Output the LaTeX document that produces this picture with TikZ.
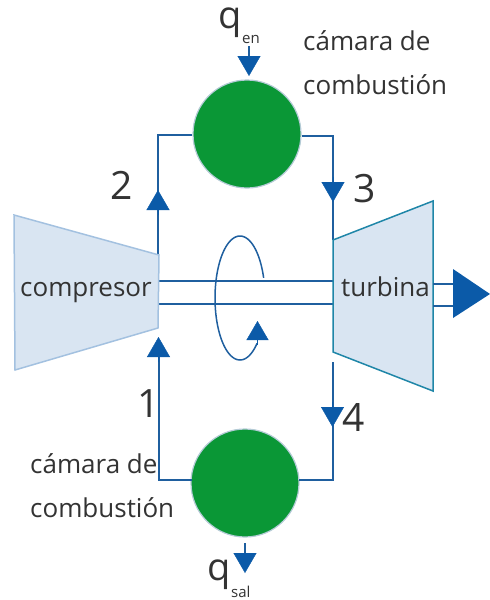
\documentclass[tikz,border=0pt]{standalone}
\usepackage{fontspec}
\setmainfont{Open Sans}
\usetikzlibrary{arrows.meta,calc}
\definecolor{flowblue}{HTML}{0B5AA8}
\definecolor{linkblue}{HTML}{1F5F9F}
\definecolor{chamber}{HTML}{0A9736}
\definecolor{rim}{HTML}{B4CBD6}
\definecolor{bodyfill}{HTML}{D9E5F2}
\definecolor{compedge}{HTML}{A3C1E0}
\definecolor{turbedge}{HTML}{1F86A8}
\definecolor{ink}{HTML}{333333}
\tikzset{
  link/.style={draw=linkblue,line width=1.5pt},
  headarrow/.style={draw=flowblue,line width=0.4pt,-{Triangle[length=20pt,width=23pt,color=flowblue]}},
  smallhead/.style={draw=flowblue,line width=0.4pt,-{Triangle[length=19pt,width=22pt,color=flowblue]}},
  chamberdot/.style={circle,fill=chamber,draw=rim,line width=1.2pt,minimum size=108pt,inner sep=0pt},
  lab/.style={anchor=base west,inner sep=0pt,text=ink,font=\fontsize{26}{26}\selectfont},
  num/.style={anchor=base west,inner sep=0pt,text=ink,font=\fontsize{39}{39}\selectfont},
  qsym/.style={anchor=base west,inner sep=0pt,text=ink,font=\fontsize{38}{38}\selectfont},
  qsub/.style={anchor=base west,inner sep=0pt,text=ink,font=\fontsize{15}{15}\selectfont},
}
\begin{document}
\begin{tikzpicture}[x=1pt,y=-1pt]
\useasboundingbox (0,0) rectangle (490,600);
% named places
\coordinate (compTL) at (14,215);
\coordinate (compTR) at (159,255);
\coordinate (compBR) at (158,328);
\coordinate (compBL) at (15,370);
\coordinate (turbTL) at (333,240);
\coordinate (turbTR) at (433,201);
\coordinate (turbBR) at (433,391);
\coordinate (turbBL) at (333,352);
\node[chamberdot] (hot) at (247,134) {};
\node[chamberdot] (cold) at (245,483) {};
% connectors
\coordinate (s1) at (159,281); \coordinate (s2) at (333,281);
\coordinate (s3) at (159,304); \coordinate (s4) at (333,304);
\draw[link] (s1) -- (s2);
\draw[link] (s3) -- (s4);
\coordinate (up2) at (158,255);
\coordinate (dn3) at (333,240);
\coordinate (in1) at (159,357);
\coordinate (out4) at (333,362);
\coordinate (hotW) at (192,135);
\coordinate (hotE) at (302,136);
\coordinate (coldW) at (192,480);
\coordinate (coldE) at (299,480);
\draw[link] (hotW) -| (up2);
\draw[link] (hotE) -| (dn3);
\draw[link] (coldW) -| (in1);
\draw[link] (coldE) -| (out4);
% bodies
\draw[fill=bodyfill,draw=compedge,line width=1.5pt,line join=miter] (compTL) -- (compTR) -- (compBR) -- (compBL) -- cycle;
\draw[fill=bodyfill,draw=turbedge,line width=1.5pt,line join=miter] (turbTL) -- (turbTR) -- (turbBR) -- (turbBL) -- cycle;
% arrowheads
\coordinate (a2) at (158,190); \coordinate (a2s) at (158,215);
\coordinate (a3) at (333,202); \coordinate (a3s) at (333,177);
\coordinate (a1) at (158.5,337); \coordinate (a1s) at (158.5,362);
\coordinate (a4) at (332.5,427); \coordinate (a4s) at (332.5,402);
\draw[headarrow] (a2s) -- (a2);
\draw[headarrow] (a3s) -- (a3);
\draw[headarrow] (a1s) -- (a1);
\draw[headarrow] (a4s) -- (a4);
% heat in / out
\coordinate (qi0) at (249,46); \coordinate (qi1) at (249,60); \coordinate (qi2) at (249,76);
\draw[link] (qi0) -- (qi1);
\draw[headarrow] (qi1) -- (qi2);
\coordinate (qo0) at (245,543); \coordinate (qo1) at (245,557); \coordinate (qo2) at (245,573);
\draw[link] (qo0) -- (qo1);
\draw[headarrow] (qo1) -- (qo2);
% output shaft
\coordinate (o1) at (433,284); \coordinate (o2) at (456,284);
\coordinate (o3) at (433,306); \coordinate (o4) at (456,306);
\draw[link] (o1) -- (o2);
\draw[link] (o3) -- (o4);
\fill[flowblue] (453,269) -- (490,294) -- (453,318) -- cycle;
% rotation mark
\draw[link] plot[domain=19:313,samples=90,smooth] ({240+25*cos(\x)},{298-62*sin(\x)});
\coordinate (rot0) at (257.5,345); \coordinate (rot1) at (257.5,321);
\draw[smallhead] (rot0) -- (rot1);
% labels
\node[lab] (tc) at (20,296) {compresor};
\node[lab] (tt) at (341,296) {turbina};
\node[lab] (ca1) at (303,50) {cámara de};
\node[lab] (ca2) at (303,94) {combustión};
\node[lab] (cb1) at (30,473) {cámara de};
\node[lab] (cb2) at (30,517) {combustión};
\node[num] (n2) at (110,199) {2};
\node[num] (n3) at (353,202) {3};
\node[num] (n4) at (342,431) {4};
\node[num] (n1) at (137,417) {1};
\node[qsym] (q1) at (218,28) {q};
\node[qsub] (q1s) at (242,43) {en};
\node[qsym] (q2) at (207,580) {q};
\node[qsub] (q2s) at (231,597) {sal};
\end{tikzpicture}
\end{document}
